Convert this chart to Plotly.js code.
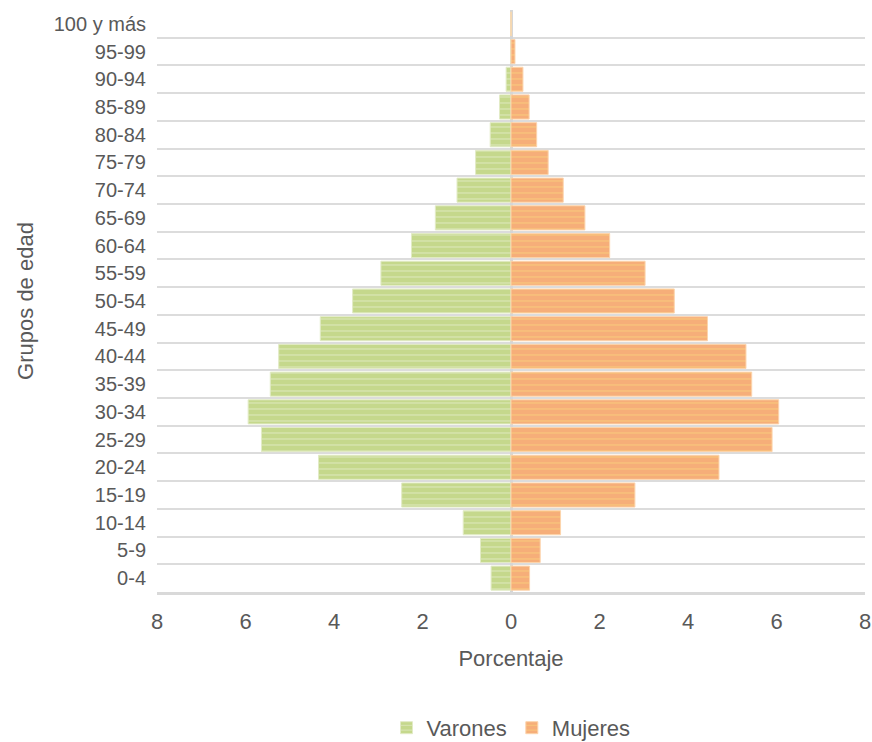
<!DOCTYPE html>
<html>
<head>
<meta charset="utf-8">
<script src="https://cdn.plot.ly/plotly-3.0.1.min.js"></script>
<style>html,body{margin:0;padding:0;background:#fff;}#chart{width:872px;height:742px;}</style>
</head>
<body>
<div id="chart"></div>
<script>
const grupos = ["0-4","5-9","10-14","15-19","20-24","25-29","30-34","35-39","40-44","45-49","50-54","55-59","60-64","65-69","70-74","75-79","80-84","85-89","90-94","95-99","100 y más"];
const varones = [0.45,0.69,1.08,2.47,4.35,5.64,5.94,5.44,5.25,4.31,3.58,2.94,2.25,1.71,1.22,0.80,0.47,0.26,0.11,0.0,0.0];
const mujeres = [0.42,0.66,1.12,2.80,4.70,5.90,6.05,5.44,5.31,4.44,3.69,3.03,2.23,1.67,1.18,0.84,0.58,0.41,0.27,0.09,0.0];
const xTicks = [-8,-6,-4,-2,0,2,4,6,8];
const xTickText = ["8","6","4","2","0","2","4","6","8"];

const green = '#c5d88c', orange = '#f6ae79';
const fam = 'Liberation Sans, Arial, sans-serif';
const gray = '#595959';
const font22 = {family: fam, size: 22, color: gray};
const font20 = {family: fam, size: 20, color: gray};

const traces = [
  {type:'bar', orientation:'h', name:'Varones', y: grupos, x: varones.map(v => -v),
   marker:{color: green, line:{color:'#e2ebc6', width:1},
     pattern:{shape:'-', fgcolor:'#e8efd2', bgcolor: green, size:6, solidity:0.12}},
   hoverinfo:'skip'},
  {type:'bar', orientation:'h', name:'Mujeres', y: grupos, x: mujeres,
   marker:{color: orange, line:{color:'#fcd4ac', width:1},
     pattern:{shape:'-', fgcolor:'#fbd77c', bgcolor: orange, size:6, solidity:0.12}},
   hoverinfo:'skip'}
];

const layout = {
  width: 872, height: 742,
  margin: {l:157, r:7, t:10, b:150, autoexpand:false},
  paper_bgcolor:'#fff', plot_bgcolor:'#fff',
  font: font22,
  barmode:'relative', bargap:0.13,
  showlegend:true,
  legend:{orientation:'h', x:0.5, xanchor:'center', yref:'container', y:0.019, yanchor:'middle', font: font22, traceorder:'normal', itemwidth:30},
  xaxis:{range:[-8,8], tickvals:xTicks, ticktext:xTickText, showgrid:false, automargin:false,
    zeroline:true, zerolinecolor:'#d6d6d6', zerolinewidth:3,
    showline:true, linecolor:'#d9d9d9', linewidth:3, ticks:'', ticklabelstandoff:8,
    tickfont: font22,
    title:{text:'Porcentaje', font: font22, standoff:18}, fixedrange:true},
  xaxis2:{overlaying:'x', side:'top', range:[-8,8], showline:true, linecolor:'#dcdcdc', linewidth:2,
    automargin:false, showgrid:false, zeroline:false, showticklabels:false, ticks:'', fixedrange:true},
  yaxis:{type:'category', tickson:'boundaries', showgrid:true, gridcolor:'#dcdcdc', gridwidth:2,
    automargin:false, ticks:'', ticklabelstandoff:10, zeroline:false, tickfont: font20,
    title:{text:'Grupos de edad', font: font22, standoff:14}, fixedrange:true}
};

Plotly.newPlot('chart', traces, layout, {displayModeBar:false, staticPlot:true});
</script>
</body>
</html>
